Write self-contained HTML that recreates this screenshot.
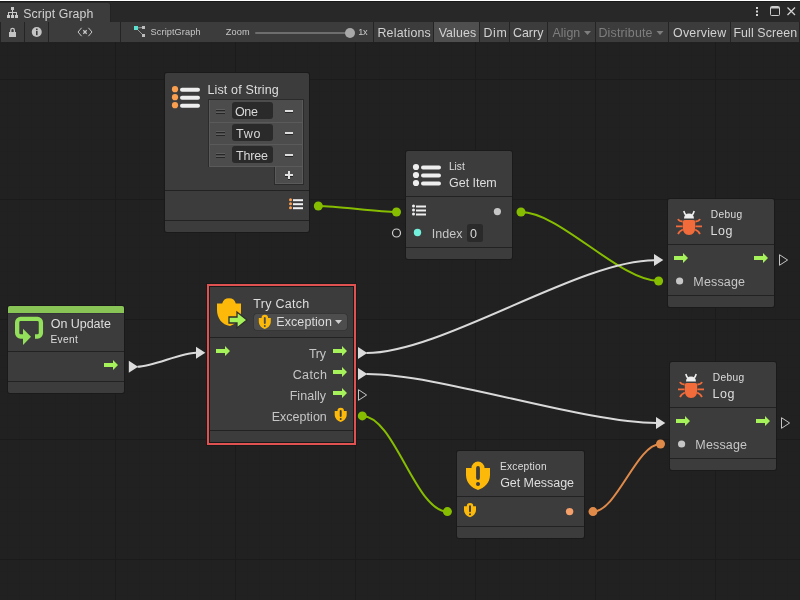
<!DOCTYPE html>
<html><head><meta charset="utf-8"><style>
html,body{margin:0;padding:0;background:#212121;overflow:hidden}
svg{display:block;will-change:transform}
text{font-family:"Liberation Sans", sans-serif}
</style></head><body>
<svg width="800" height="600" viewBox="0 0 800 600">
<rect x="0" y="0" width="800" height="600" fill="#212121" />
<g shape-rendering="crispEdges"><rect x="7" y="42" width="1" height="558" fill="#202020"/><rect x="19" y="42" width="1" height="558" fill="#202020"/><rect x="31" y="42" width="1" height="558" fill="#202020"/><rect x="43" y="42" width="1" height="558" fill="#202020"/><rect x="55" y="42" width="1" height="558" fill="#202020"/><rect x="67" y="42" width="1" height="558" fill="#202020"/><rect x="79" y="42" width="1" height="558" fill="#202020"/><rect x="91" y="42" width="1" height="558" fill="#202020"/><rect x="103" y="42" width="1" height="558" fill="#202020"/><rect x="127" y="42" width="1" height="558" fill="#202020"/><rect x="139" y="42" width="1" height="558" fill="#202020"/><rect x="151" y="42" width="1" height="558" fill="#202020"/><rect x="163" y="42" width="1" height="558" fill="#202020"/><rect x="175" y="42" width="1" height="558" fill="#202020"/><rect x="187" y="42" width="1" height="558" fill="#202020"/><rect x="199" y="42" width="1" height="558" fill="#202020"/><rect x="211" y="42" width="1" height="558" fill="#202020"/><rect x="223" y="42" width="1" height="558" fill="#202020"/><rect x="247" y="42" width="1" height="558" fill="#202020"/><rect x="259" y="42" width="1" height="558" fill="#202020"/><rect x="271" y="42" width="1" height="558" fill="#202020"/><rect x="283" y="42" width="1" height="558" fill="#202020"/><rect x="295" y="42" width="1" height="558" fill="#202020"/><rect x="307" y="42" width="1" height="558" fill="#202020"/><rect x="319" y="42" width="1" height="558" fill="#202020"/><rect x="331" y="42" width="1" height="558" fill="#202020"/><rect x="343" y="42" width="1" height="558" fill="#202020"/><rect x="367" y="42" width="1" height="558" fill="#202020"/><rect x="379" y="42" width="1" height="558" fill="#202020"/><rect x="391" y="42" width="1" height="558" fill="#202020"/><rect x="403" y="42" width="1" height="558" fill="#202020"/><rect x="415" y="42" width="1" height="558" fill="#202020"/><rect x="427" y="42" width="1" height="558" fill="#202020"/><rect x="439" y="42" width="1" height="558" fill="#202020"/><rect x="451" y="42" width="1" height="558" fill="#202020"/><rect x="463" y="42" width="1" height="558" fill="#202020"/><rect x="487" y="42" width="1" height="558" fill="#202020"/><rect x="499" y="42" width="1" height="558" fill="#202020"/><rect x="511" y="42" width="1" height="558" fill="#202020"/><rect x="523" y="42" width="1" height="558" fill="#202020"/><rect x="535" y="42" width="1" height="558" fill="#202020"/><rect x="547" y="42" width="1" height="558" fill="#202020"/><rect x="559" y="42" width="1" height="558" fill="#202020"/><rect x="571" y="42" width="1" height="558" fill="#202020"/><rect x="583" y="42" width="1" height="558" fill="#202020"/><rect x="607" y="42" width="1" height="558" fill="#202020"/><rect x="619" y="42" width="1" height="558" fill="#202020"/><rect x="631" y="42" width="1" height="558" fill="#202020"/><rect x="643" y="42" width="1" height="558" fill="#202020"/><rect x="655" y="42" width="1" height="558" fill="#202020"/><rect x="667" y="42" width="1" height="558" fill="#202020"/><rect x="679" y="42" width="1" height="558" fill="#202020"/><rect x="691" y="42" width="1" height="558" fill="#202020"/><rect x="703" y="42" width="1" height="558" fill="#202020"/><rect x="727" y="42" width="1" height="558" fill="#202020"/><rect x="739" y="42" width="1" height="558" fill="#202020"/><rect x="751" y="42" width="1" height="558" fill="#202020"/><rect x="763" y="42" width="1" height="558" fill="#202020"/><rect x="775" y="42" width="1" height="558" fill="#202020"/><rect x="787" y="42" width="1" height="558" fill="#202020"/><rect x="799" y="42" width="1" height="558" fill="#202020"/><rect x="0" y="43" width="800" height="1" fill="#202020"/><rect x="0" y="55" width="800" height="1" fill="#202020"/><rect x="0" y="67" width="800" height="1" fill="#202020"/><rect x="0" y="91" width="800" height="1" fill="#202020"/><rect x="0" y="103" width="800" height="1" fill="#202020"/><rect x="0" y="115" width="800" height="1" fill="#202020"/><rect x="0" y="127" width="800" height="1" fill="#202020"/><rect x="0" y="139" width="800" height="1" fill="#202020"/><rect x="0" y="151" width="800" height="1" fill="#202020"/><rect x="0" y="163" width="800" height="1" fill="#202020"/><rect x="0" y="175" width="800" height="1" fill="#202020"/><rect x="0" y="187" width="800" height="1" fill="#202020"/><rect x="0" y="211" width="800" height="1" fill="#202020"/><rect x="0" y="223" width="800" height="1" fill="#202020"/><rect x="0" y="235" width="800" height="1" fill="#202020"/><rect x="0" y="247" width="800" height="1" fill="#202020"/><rect x="0" y="259" width="800" height="1" fill="#202020"/><rect x="0" y="271" width="800" height="1" fill="#202020"/><rect x="0" y="283" width="800" height="1" fill="#202020"/><rect x="0" y="295" width="800" height="1" fill="#202020"/><rect x="0" y="307" width="800" height="1" fill="#202020"/><rect x="0" y="331" width="800" height="1" fill="#202020"/><rect x="0" y="343" width="800" height="1" fill="#202020"/><rect x="0" y="355" width="800" height="1" fill="#202020"/><rect x="0" y="367" width="800" height="1" fill="#202020"/><rect x="0" y="379" width="800" height="1" fill="#202020"/><rect x="0" y="391" width="800" height="1" fill="#202020"/><rect x="0" y="403" width="800" height="1" fill="#202020"/><rect x="0" y="415" width="800" height="1" fill="#202020"/><rect x="0" y="427" width="800" height="1" fill="#202020"/><rect x="0" y="451" width="800" height="1" fill="#202020"/><rect x="0" y="463" width="800" height="1" fill="#202020"/><rect x="0" y="475" width="800" height="1" fill="#202020"/><rect x="0" y="487" width="800" height="1" fill="#202020"/><rect x="0" y="499" width="800" height="1" fill="#202020"/><rect x="0" y="511" width="800" height="1" fill="#202020"/><rect x="0" y="523" width="800" height="1" fill="#202020"/><rect x="0" y="535" width="800" height="1" fill="#202020"/><rect x="0" y="547" width="800" height="1" fill="#202020"/><rect x="0" y="571" width="800" height="1" fill="#202020"/><rect x="0" y="583" width="800" height="1" fill="#202020"/><rect x="0" y="595" width="800" height="1" fill="#202020"/><rect x="115" y="42" width="1" height="558" fill="#1b1b1b"/><rect x="235" y="42" width="1" height="558" fill="#1b1b1b"/><rect x="355" y="42" width="1" height="558" fill="#1b1b1b"/><rect x="475" y="42" width="1" height="558" fill="#1b1b1b"/><rect x="595" y="42" width="1" height="558" fill="#1b1b1b"/><rect x="715" y="42" width="1" height="558" fill="#1b1b1b"/><rect x="0" y="79" width="800" height="1" fill="#1b1b1b"/><rect x="0" y="199" width="800" height="1" fill="#1b1b1b"/><rect x="0" y="319" width="800" height="1" fill="#1b1b1b"/><rect x="0" y="439" width="800" height="1" fill="#1b1b1b"/><rect x="0" y="559" width="800" height="1" fill="#1b1b1b"/></g>
<rect x="0" y="0" width="800" height="1" fill="#ffffff" />
<rect x="0" y="1" width="800" height="1" fill="#191919" />
<rect x="0" y="2" width="800" height="20" fill="#282828" />
<path d="M0 3 H108 Q110 3 110 5 V22 H0 Z" fill="#3c3c3c"/>
<rect x="110" y="4" width="1" height="18" fill="#232323" />
<g fill="#c8c8c8" shape-rendering="crispEdges"><rect x="11" y="7" width="3" height="3"/><rect x="12" y="10" width="1" height="2"/><rect x="8" y="12" width="9" height="1"/><rect x="8" y="13" width="1" height="2"/><rect x="12" y="13" width="1" height="2"/><rect x="16" y="13" width="1" height="2"/><rect x="7" y="15" width="3" height="3"/><rect x="11" y="15" width="3" height="3"/><rect x="15" y="15" width="3" height="3"/></g>
<text x="23.20" y="17.5" font-size="12.3" fill="#d2d2d2" letter-spacing="0.097" >Script Graph</text>
<g fill="#d2d2d2"><rect x="756" y="7" width="2" height="2"/><rect x="756" y="10.5" width="2" height="2"/><rect x="756" y="14" width="2" height="2"/></g>
<rect x="770.5" y="6.5" width="9" height="9" rx="1" fill="none" stroke="#cccccc" stroke-width="1"/><rect x="771" y="7" width="8" height="1.5" fill="#cccccc"/>
<path d="M787.5 7.5 L795 15 M795 7.5 L787.5 15" stroke="#d2d2d2" stroke-width="1.3"/>
<rect x="0" y="22" width="800" height="20" fill="#3c3c3c" />
<rect x="0" y="22" width="1" height="20" fill="#242424" />
<rect x="24" y="22" width="1" height="20" fill="#242424" />
<rect x="48" y="22" width="1" height="20" fill="#242424" />
<rect x="120" y="22" width="1" height="20" fill="#242424" />
<rect x="373" y="22" width="1" height="20" fill="#242424" />
<rect x="433" y="22" width="1" height="20" fill="#242424" />
<rect x="479" y="22" width="1" height="20" fill="#242424" />
<rect x="509" y="22" width="1" height="20" fill="#242424" />
<rect x="547" y="22" width="1" height="20" fill="#242424" />
<rect x="595" y="22" width="1" height="20" fill="#242424" />
<rect x="668" y="22" width="1" height="20" fill="#242424" />
<rect x="730" y="22" width="1" height="20" fill="#242424" />
<rect x="799" y="22" width="1" height="20" fill="#242424" />
<rect x="434" y="22" width="45" height="20" fill="#4f4f4f" />
<path d="M10.75 32 V30.2 A1.8 1.8 0 0 1 14.35 30.2 V32" fill="none" stroke="#c4c4c4" stroke-width="1.3"/>
<rect x="9" y="32" width="7" height="5" fill="#c4c4c4" />
<circle cx="36.75" cy="32" r="5" fill="#c4c4c4"/><rect x="36" y="28.6" width="1.6" height="1.6" fill="#3c3c3c"/><rect x="36" y="31" width="1.6" height="4.2" fill="#3c3c3c"/>
<path d="M81.6 27.8 L78 32 L81.6 36.2 M88.4 27.8 L92 32 L88.4 36.2" fill="none" stroke="#c8c8c8" stroke-width="1"/><path d="M83.3 30.3 L86.7 33.7 M86.7 30.3 L83.3 33.7" fill="none" stroke="#c8c8c8" stroke-width="1.3"/>
<path d="M136 28 L143.5 27.5 M136 28 L143.5 35.5" stroke="#9a9a9a" stroke-width="1"/>
<rect x="134" y="26" width="4" height="4" fill="#5ce0d0" />
<rect x="142" y="26" width="3" height="3" fill="#bdbdbd" />
<rect x="142" y="34" width="3" height="3" fill="#bdbdbd" />
<text x="150.59" y="34.8" font-size="9.2" fill="#c8c8c8" letter-spacing="0.093" >ScriptGraph</text>
<text x="225.70" y="34.8" font-size="9.2" fill="#c8c8c8" letter-spacing="0.130" >Zoom</text>
<rect x="255" y="32" width="94" height="2" fill="#6e6e6e" rx="1" />
<circle cx="350" cy="33" r="5" fill="#a8a8a8"/>
<text x="358.31" y="34.8" font-size="9.2" fill="#c8c8c8" letter-spacing="-0.301" >1x</text>
<text x="377.48" y="37" font-size="12.4" fill="#d2d2d2" letter-spacing="0.206" >Relations</text>
<text x="438.64" y="37" font-size="12.4" fill="#d2d2d2" letter-spacing="0.123" >Values</text>
<text x="483.38" y="37" font-size="12.4" fill="#d2d2d2" letter-spacing="0.694" >Dim</text>
<text x="512.88" y="37" font-size="12.4" fill="#d2d2d2" letter-spacing="0.058" >Carry</text>
<text x="552.57" y="37" font-size="12.4" fill="#7e7e7e" letter-spacing="0.019" >Align</text>
<path d="M584 31 H591 L587.5 35 Z" fill="#7e7e7e"/>
<text x="598.48" y="37" font-size="12.4" fill="#7e7e7e" letter-spacing="0.188" >Distribute</text>
<path d="M656.5 31 H663.5 L660 35 Z" fill="#7e7e7e"/>
<text x="673.11" y="37" font-size="12.4" fill="#d2d2d2" letter-spacing="0.197" >Overview</text>
<text x="733.38" y="37" font-size="12.4" fill="#d2d2d2" letter-spacing="0.102" >Full Screen</text>
<path d="M318.3 206 C337.9 206 376.9 212 396.5 212" fill="none" stroke="#86bd00" stroke-width="2"/>
<path d="M521 212 C559.5 212 620.1 281 658.6 281" fill="none" stroke="#86bd00" stroke-width="2"/>
<path d="M137.5 366.8 C152.5 366.8 181.0 352.8 196 352.8" fill="none" stroke="#d9d9d9" stroke-width="2"/>
<path d="M366.5 353 C442.1 353 578.9 260.3 654.5 260.3" fill="none" stroke="#d9d9d9" stroke-width="2"/>
<path d="M366.5 374 C440.0 374 583.0 423 656.5 423" fill="none" stroke="#d9d9d9" stroke-width="2"/>
<path d="M362.3 415.9 C394.3 415.9 415.4 511.6 447.4 511.6" fill="none" stroke="#86bd00" stroke-width="2"/>
<path d="M593 511.6 C616.9 511.6 636.6 444 660.5 444" fill="none" stroke="#e08a4a" stroke-width="2"/>
<rect x="164" y="72" width="146" height="161" fill="#1a1a1a" rx="3" />
<rect x="165" y="73" width="144" height="159" fill="#3c3c3c" rx="2" />
<rect x="165" y="190" width="144" height="1" fill="#222222" />
<rect x="165" y="220" width="144" height="1" fill="#222222" />
<circle cx="175" cy="89.2" r="3.1" fill="#fa9f50"/>
<rect x="180.0" y="87.8" width="20.0" height="4.0" rx="2.0" fill="#eeeeee"/>
<circle cx="175" cy="97.2" r="3.1" fill="#fa9f50"/>
<rect x="180.0" y="95.8" width="20.0" height="4.0" rx="2.0" fill="#eeeeee"/>
<circle cx="175" cy="105.2" r="3.1" fill="#fa9f50"/>
<rect x="180.0" y="103.8" width="20.0" height="4.0" rx="2.0" fill="#eeeeee"/>
<text x="207.47" y="93.5" font-size="12.5" fill="#dedede" letter-spacing="0.142" >List of String</text>
<rect x="208" y="99" width="96" height="68" fill="#2b2b2b" />
<rect x="209" y="100" width="94" height="67" fill="#5a5a5a" />
<rect x="210" y="100" width="92" height="66" fill="#4c4c4c" />
<rect x="209" y="122" width="94" height="1" fill="#5a5a5a" />
<rect x="209" y="144" width="94" height="1" fill="#5a5a5a" />
<rect x="274" y="167" width="30" height="18" fill="#2b2b2b" />
<rect x="275" y="167" width="28" height="17" fill="#5a5a5a" />
<rect x="276" y="167" width="26" height="16" fill="#4c4c4c" />
<rect x="216" y="109" width="9" height="1" fill="#5e5e5e" />
<rect x="216" y="110" width="9" height="1" fill="#262626" />
<rect x="216" y="112" width="9" height="1" fill="#5e5e5e" />
<rect x="216" y="113" width="9" height="1" fill="#262626" />
<rect x="232" y="102" width="41" height="17" fill="#2a2a2a" rx="3" />
<rect x="285" y="112" width="8" height="1" fill="#262626" />
<rect x="285" y="110" width="8" height="2" fill="#dcdcdc" />
<rect x="216" y="131" width="9" height="1" fill="#5e5e5e" />
<rect x="216" y="132" width="9" height="1" fill="#262626" />
<rect x="216" y="134" width="9" height="1" fill="#5e5e5e" />
<rect x="216" y="135" width="9" height="1" fill="#262626" />
<rect x="232" y="124" width="41" height="17" fill="#2a2a2a" rx="3" />
<rect x="285" y="134" width="8" height="1" fill="#262626" />
<rect x="285" y="132" width="8" height="2" fill="#dcdcdc" />
<rect x="216" y="153" width="9" height="1" fill="#5e5e5e" />
<rect x="216" y="154" width="9" height="1" fill="#262626" />
<rect x="216" y="156" width="9" height="1" fill="#5e5e5e" />
<rect x="216" y="157" width="9" height="1" fill="#262626" />
<rect x="232" y="146" width="41" height="17" fill="#2a2a2a" rx="3" />
<rect x="285" y="156" width="8" height="1" fill="#262626" />
<rect x="285" y="154" width="8" height="2" fill="#dcdcdc" />
<text x="235.01" y="116" font-size="12.5" fill="#d8d8d8" letter-spacing="-0.350" >One</text>
<text x="236.12" y="137.9" font-size="12.5" fill="#d8d8d8" letter-spacing="0.737" >Two</text>
<text x="236.12" y="159.8" font-size="12.5" fill="#d8d8d8" letter-spacing="-0.178" >Three</text>
<path d="M285 176 H293 M289 172 V180" stroke="#262626" stroke-width="2"/><path d="M285 175 H293 M289 171 V179" stroke="#e0e0e0" stroke-width="2"/>
<circle cx="290.5" cy="199.7" r="1.5" fill="#fa9f50"/>
<rect x="293.0" y="199.2" width="10" height="2" fill="#f0f0f0"/>
<circle cx="290.5" cy="203.7" r="1.5" fill="#fa9f50"/>
<rect x="293.0" y="203.2" width="10" height="2" fill="#f0f0f0"/>
<circle cx="290.5" cy="207.7" r="1.5" fill="#fa9f50"/>
<rect x="293.0" y="207.2" width="10" height="2" fill="#f0f0f0"/>
<rect x="405" y="150" width="108" height="110" fill="#1a1a1a" rx="3" />
<rect x="406" y="151" width="106" height="108" fill="#3c3c3c" rx="2" />
<rect x="406" y="196" width="106" height="1" fill="#222222" />
<rect x="406" y="247" width="106" height="1" fill="#222222" />
<circle cx="416" cy="167.0" r="3.1" fill="#eeeeee"/>
<rect x="421.0" y="165.6" width="20.0" height="4.0" rx="2.0" fill="#eeeeee"/>
<circle cx="416" cy="175.0" r="3.1" fill="#eeeeee"/>
<rect x="421.0" y="173.6" width="20.0" height="4.0" rx="2.0" fill="#eeeeee"/>
<circle cx="416" cy="183.0" r="3.1" fill="#eeeeee"/>
<rect x="421.0" y="181.6" width="20.0" height="4.0" rx="2.0" fill="#eeeeee"/>
<text x="448.91" y="170" font-size="10.2" fill="#dedede" letter-spacing="0.019" >List</text>
<text x="449.12" y="186.9" font-size="12.5" fill="#dedede" letter-spacing="-0.050" >Get Item</text>
<circle cx="413.5" cy="206" r="1.5" fill="#eeeeee"/>
<rect x="416.0" y="205.5" width="10" height="2" fill="#eeeeee"/>
<circle cx="413.5" cy="210" r="1.5" fill="#eeeeee"/>
<rect x="416.0" y="209.5" width="10" height="2" fill="#eeeeee"/>
<circle cx="413.5" cy="214" r="1.5" fill="#eeeeee"/>
<rect x="416.0" y="213.5" width="10" height="2" fill="#eeeeee"/>
<circle cx="497.4" cy="211.6" r="3.6" fill="#c6c6c6"/>
<circle cx="417.5" cy="232.5" r="3.7" fill="#72f0dc"/>
<text x="431.84" y="238" font-size="12.5" fill="#c6c6c6" letter-spacing="0.005" >Index</text>
<rect x="467" y="224" width="16" height="18" fill="#2a2a2a" rx="2.5" />
<text x="470.00" y="238" font-size="12.5" fill="#d8d8d8" >0</text>
<rect x="667" y="198" width="108" height="110" fill="#1a1a1a" rx="3" />
<rect x="668" y="199" width="106" height="108" fill="#3c3c3c" rx="2" />
<rect x="668" y="244" width="106" height="1" fill="#222222" />
<rect x="668" y="295" width="106" height="1" fill="#222222" />
<g transform="translate(672,206)"><path d="M11.8 5 Q12.5 7.5 13.8 9 M22.2 5 Q21.5 7.5 20.2 9" stroke="#eeeeee" stroke-width="1.6" fill="none"/><path d="M12 12.6 Q12.3 7.6 17 7.6 Q21.7 7.6 22 12.6 Z" fill="#eeeeee"/><path d="M10.8 16 Q10.8 14.1 12.7 14.1 H21.3 Q23.2 14.1 23.2 16 V21 Q23.2 29 17 29 Q10.8 29 10.8 21 Z" fill="#f26b3a"/><path d="M6 13 Q7 15.5 10.6 15.5 M28 13 Q27 15.5 23.4 15.5 M4 20.3 H10.6 M23.4 20.3 H30 M10.8 23.5 Q7.5 25 6 28 M23.2 23.5 Q26.5 25 28 28" stroke="#f26b3a" stroke-width="1.8" fill="none"/></g>
<text x="710.76" y="218" font-size="10.2" fill="#dedede" letter-spacing="0.335" >Debug</text>
<text x="710.57" y="235" font-size="12.5" fill="#dedede" letter-spacing="0.484" >Log</text>
<path d="M674 256 H683 V253 L688 258 L683 263 V260 H674 Z" fill="#a6f25a"/>
<path d="M754 256 H763 V253 L768 258 L763 263 V260 H754 Z" fill="#a6f25a"/>
<circle cx="679.6" cy="281" r="3.6" fill="#c6c6c6"/>
<text x="693.37" y="286" font-size="12.5" fill="#c6c6c6" letter-spacing="0.141" >Message</text>
<path d="M779.5 254.7 L787.6 260 L779.5 265.3 Z" fill="none" stroke="#c4c4c4" stroke-width="1"/>
<rect x="669" y="361" width="108" height="110" fill="#1a1a1a" rx="3" />
<rect x="670" y="362" width="106" height="108" fill="#3c3c3c" rx="2" />
<rect x="670" y="407" width="106" height="1" fill="#222222" />
<rect x="670" y="458" width="106" height="1" fill="#222222" />
<g transform="translate(674,369)"><path d="M11.8 5 Q12.5 7.5 13.8 9 M22.2 5 Q21.5 7.5 20.2 9" stroke="#eeeeee" stroke-width="1.6" fill="none"/><path d="M12 12.6 Q12.3 7.6 17 7.6 Q21.7 7.6 22 12.6 Z" fill="#eeeeee"/><path d="M10.8 16 Q10.8 14.1 12.7 14.1 H21.3 Q23.2 14.1 23.2 16 V21 Q23.2 29 17 29 Q10.8 29 10.8 21 Z" fill="#f26b3a"/><path d="M6 13 Q7 15.5 10.6 15.5 M28 13 Q27 15.5 23.4 15.5 M4 20.3 H10.6 M23.4 20.3 H30 M10.8 23.5 Q7.5 25 6 28 M23.2 23.5 Q26.5 25 28 28" stroke="#f26b3a" stroke-width="1.8" fill="none"/></g>
<text x="712.76" y="381" font-size="10.2" fill="#dedede" letter-spacing="0.335" >Debug</text>
<text x="712.57" y="398" font-size="12.5" fill="#dedede" letter-spacing="0.484" >Log</text>
<path d="M676 419 H685 V416 L690 421 L685 426 V423 H676 Z" fill="#a6f25a"/>
<path d="M756 419 H765 V416 L770 421 L765 426 V423 H756 Z" fill="#a6f25a"/>
<circle cx="681.6" cy="444" r="3.6" fill="#c6c6c6"/>
<text x="695.37" y="449" font-size="12.5" fill="#c6c6c6" letter-spacing="0.141" >Message</text>
<path d="M781.5 417.7 L789.6 423 L781.5 428.3 Z" fill="none" stroke="#c4c4c4" stroke-width="1"/>
<path d="M654 254 L663.3 260 L654 266 Z" fill="#dcdcdc"/>
<path d="M656 417 L665.3 423 L656 429 Z" fill="#dcdcdc"/>
<rect x="7" y="305" width="118" height="89" fill="#1a1a1a" rx="3" />
<rect x="8" y="306" width="116" height="87" fill="#3c3c3c" rx="2" />
<rect x="8" y="351" width="116" height="1" fill="#222222" />
<rect x="8" y="381" width="116" height="1" fill="#222222" />
<rect x="8" y="306" width="116" height="7" fill="#89c457" rx="2" />
<rect x="8" y="309" width="116" height="4" fill="#89c457" />
<rect x="8" y="313" width="116" height="1" fill="#333338" />
<g transform="translate(10,312)"><path d="M25 24.5 H27.4 A3.5 3.5 0 0 0 30.9 21 V10.4 A3.5 3.5 0 0 0 27.4 6.9 H10.65 A3.5 3.5 0 0 0 7.15 10.4 V21 A3.5 3.5 0 0 0 10.65 24.5 H14" fill="none" stroke="#93e05a" stroke-width="4.3"/><path d="M13 16.8 L21 24.8 L13 32.9 Z" fill="#93e05a"/></g>
<text x="50.71" y="328" font-size="12.5" fill="#dedede" letter-spacing="-0.039" >On Update</text>
<text x="50.46" y="343" font-size="10.2" fill="#dedede" letter-spacing="0.308" >Event</text>
<path d="M104 363 H113 V360 L118 365 L113 370 V367 H104 Z" fill="#a6f25a"/>
<path d="M128.8 360.8 L138.10000000000002 366.8 L128.8 372.8 Z" fill="#dcdcdc"/>
<rect x="206" y="283" width="151" height="163" fill="#1a1a1a" />
<rect x="207" y="284" width="149" height="161" fill="#e05252" />
<rect x="209" y="286" width="145" height="157" fill="#1a1a1a" />
<rect x="210" y="287" width="143" height="155" fill="#3c3c3c" />
<rect x="210" y="337" width="143" height="1" fill="#222222" />
<rect x="210" y="430" width="143" height="1" fill="#222222" />
<g transform="translate(212,292)"><path d="M5 11.5 H10.2 A7 7 0 0 1 23.8 11.5 H29 V20 C29 27 24 32 18 34 C10 33 5 26 5 18 Z" fill="#fcb90a"/><path d="M17 25 H25 V20 L35 28 L25 36 V31 H17 Z" fill="#a6f25a" stroke="#2e2e2e" stroke-width="1.3"/></g>
<text x="253.32" y="307.5" font-size="12.5" fill="#dedede" letter-spacing="0.276" >Try Catch</text>
<rect x="253.5" y="313.5" width="94" height="17" fill="#303030" rx="3" />
<rect x="254" y="314" width="93" height="16" fill="#4d4d4d" rx="3" />
<g transform="translate(256.8,313.05) scale(0.5)"><path d="M4 10 H9.5 A6.5 6.5 0 0 1 22.5 10 H28 V17 C28 25 22 30 16 32 C10 30 4 25 4 17 Z" fill="#fcb90a"/><rect x="14.1" y="8" width="3.8" height="14" rx="1.9" fill="#4d4d4d"/><circle cx="16" cy="26" r="2" fill="#4d4d4d"/></g>
<text x="276.27" y="325.7" font-size="12.5" fill="#dcdcdc" letter-spacing="0.084" >Exception</text>
<path d="M335 320 H342 L338.5 324 Z" fill="#cfcfcf"/>
<path d="M216 349 H225 V346 L230 351 L225 356 V353 H216 Z" fill="#a6f25a"/>
<text x="308.92" y="358" font-size="12.5" fill="#c6c6c6" letter-spacing="-0.241" >Try</text>
<text x="292.68" y="379" font-size="12.5" fill="#c6c6c6" letter-spacing="0.378" >Catch</text>
<text x="289.67" y="400" font-size="12.5" fill="#c6c6c6" letter-spacing="0.040" >Finally</text>
<text x="271.67" y="421" font-size="12.5" fill="#c6c6c6" letter-spacing="0.034" >Exception</text>
<path d="M333 349 H342 V346 L347 351 L342 356 V353 H333 Z" fill="#a6f25a"/>
<path d="M333 370 H342 V367 L347 372 L342 377 V374 H333 Z" fill="#a6f25a"/>
<path d="M333 391 H342 V388 L347 393 L342 398 V395 H333 Z" fill="#a6f25a"/>
<g transform="translate(332.7,405.95) scale(0.5)"><path d="M4 10 H9.5 A6.5 6.5 0 0 1 22.5 10 H28 V17 C28 25 22 30 16 32 C10 30 4 25 4 17 Z" fill="#fcb90a"/><rect x="14.1" y="8" width="3.8" height="14" rx="1.9" fill="#3c3c3c"/><circle cx="16" cy="26" r="2" fill="#3c3c3c"/></g>
<path d="M358 347 L367.3 353 L358 359 Z" fill="#dcdcdc"/>
<path d="M358 368 L367.3 374 L358 380 Z" fill="#dcdcdc"/>
<path d="M358.5 389.7 L366.6 395 L358.5 400.3 Z" fill="none" stroke="#c4c4c4" stroke-width="1"/>
<path d="M196 346.8 L205.3 352.8 L196 358.8 Z" fill="#dcdcdc"/>
<rect x="456" y="450" width="129" height="89" fill="#1a1a1a" rx="3" />
<rect x="457" y="451" width="127" height="87" fill="#3c3c3c" rx="2" />
<rect x="457" y="496" width="127" height="1" fill="#222222" />
<rect x="457" y="526" width="127" height="1" fill="#222222" />
<g transform="translate(462,458) scale(1.0)"><path d="M4 10 H9.5 A6.5 6.5 0 0 1 22.5 10 H28 V17 C28 25 22 30 16 32 C10 30 4 25 4 17 Z" fill="#fcb90a"/><rect x="14.1" y="8" width="3.8" height="14" rx="1.9" fill="#3c3c3c"/><circle cx="16" cy="26" r="2" fill="#3c3c3c"/></g>
<text x="499.96" y="470" font-size="10.2" fill="#dedede" letter-spacing="0.241" >Exception</text>
<text x="500.18" y="486.5" font-size="12.5" fill="#dedede" letter-spacing="-0.049" >Get Message</text>
<g transform="translate(462.0,501.25) scale(0.5)"><path d="M4 10 H9.5 A6.5 6.5 0 0 1 22.5 10 H28 V17 C28 25 22 30 16 32 C10 30 4 25 4 17 Z" fill="#fcb90a"/><rect x="14.1" y="8" width="3.8" height="14" rx="1.9" fill="#3c3c3c"/><circle cx="16" cy="26" r="2" fill="#3c3c3c"/></g>
<circle cx="569.6" cy="511.6" r="3.7" fill="#f5a06a"/>
<circle cx="318.3" cy="206" r="4.5" fill="#86bd00"/>
<circle cx="396.5" cy="212" r="4.5" fill="#86bd00"/>
<circle cx="396.5" cy="233" r="4" fill="none" stroke="#cfcfcf" stroke-width="1.2"/>
<circle cx="521" cy="212" r="4.5" fill="#86bd00"/>
<circle cx="658.6" cy="281" r="4.5" fill="#86bd00"/>
<circle cx="362.3" cy="415.9" r="4.5" fill="#86bd00"/>
<circle cx="447.4" cy="511.6" r="4.5" fill="#86bd00"/>
<circle cx="593" cy="511.6" r="4.5" fill="#e08a4a"/>
<circle cx="660.5" cy="444" r="4.5" fill="#e08a4a"/>
</svg></body></html>
